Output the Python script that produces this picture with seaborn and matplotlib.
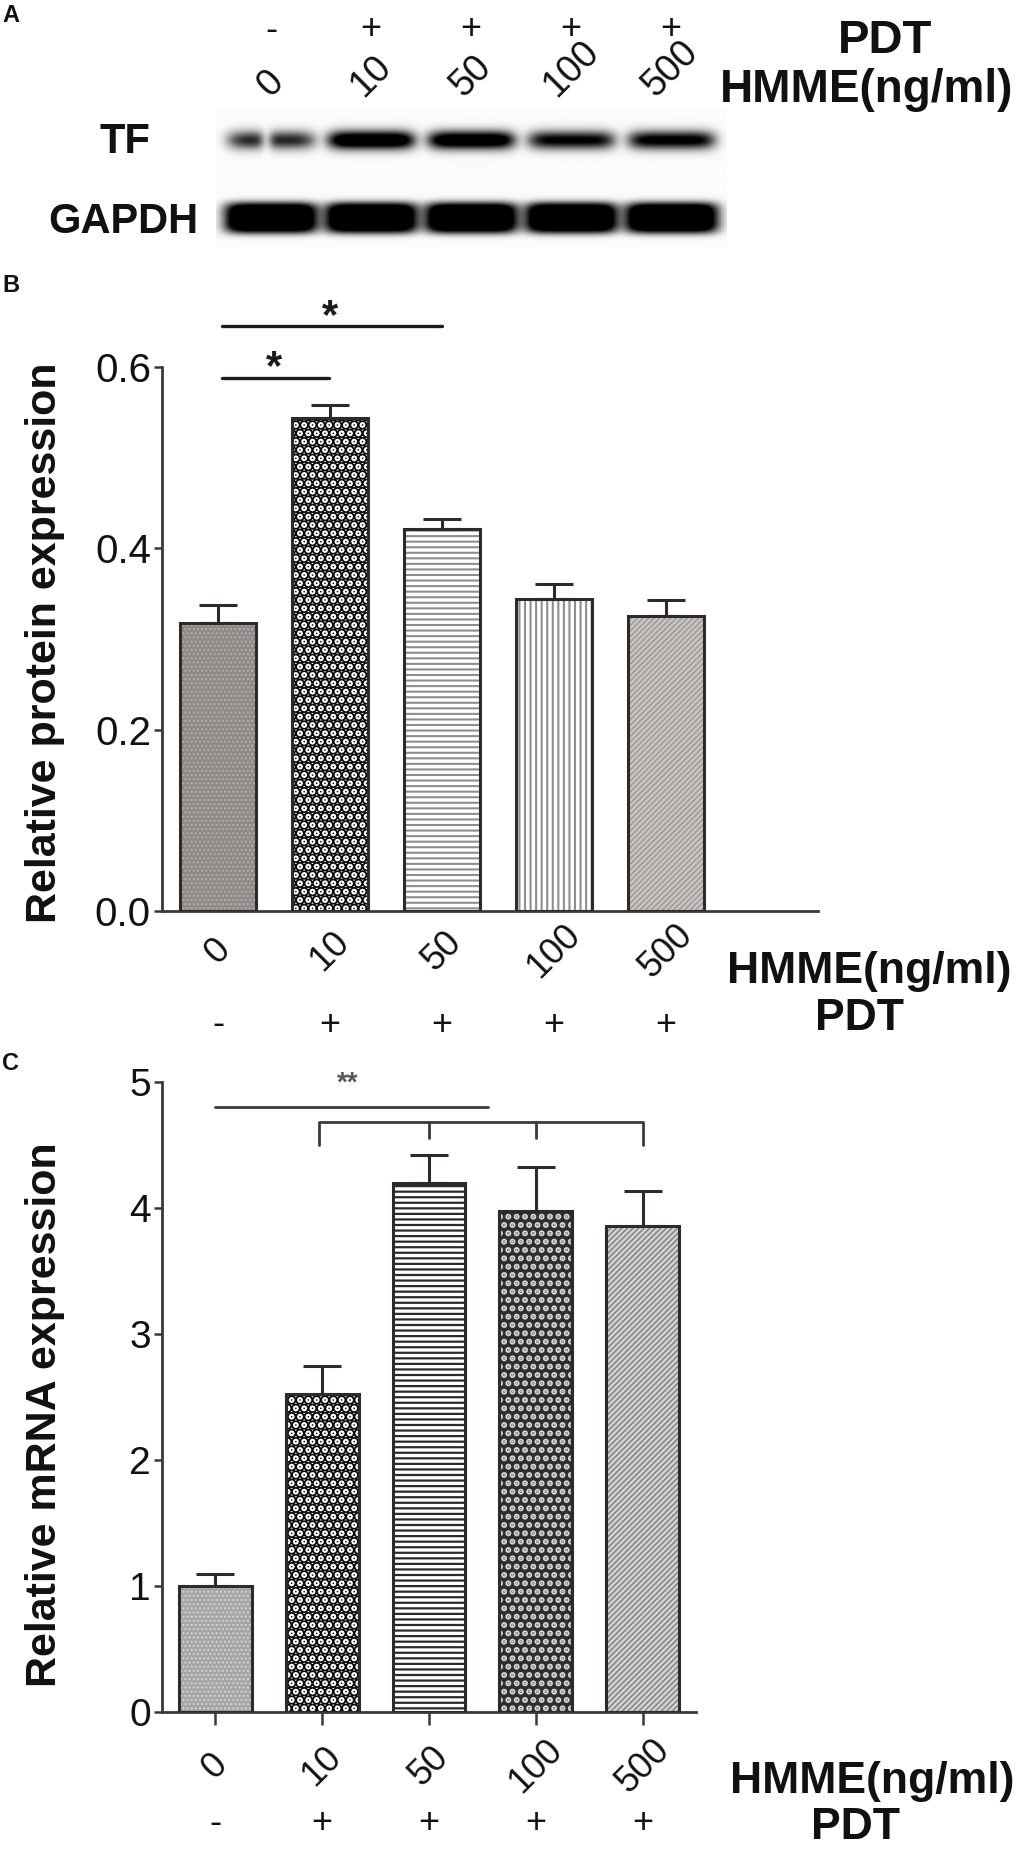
import numpy as np
import pandas as pd
import matplotlib
matplotlib.use("Agg")
import matplotlib.pyplot as plt
import matplotlib.transforms as mtrans
import seaborn as sns

# ---------------- data ----------------
doses = ["0", "10", "50", "100", "500"]
pdt = ["-", "+", "+", "+", "+"]
protein_mean = [0.318, 0.544, 0.421, 0.344, 0.325]
protein_sem = [0.019, 0.014, 0.011, 0.017, 0.018]
mrna_mean = [1.00, 2.52, 4.20, 3.98, 3.86]
mrna_sem = [0.095, 0.23, 0.22, 0.345, 0.275]
protein_yticks = [0.0, 0.2, 0.4, 0.6]
mrna_yticks = [0, 1, 2, 3, 4, 5]
tf_band = [0.55, 1.0, 0.95, 0.70, 0.75]
tf_split = [0.8, 0.0, 0.0, 0.0, 0.0]
gapdh_band = [1.0, 1.0, 1.0, 1.0, 1.0]

# ---------------- style ----------------
sns.set_theme(style="white")
plt.rcParams["font.family"] = ["Liberation Sans", "DejaVu Sans"]
OUT = "#2e2a29"
TXT = "#111111"

W, H = 1022, 1860
fig = plt.figure(figsize=(W / 100, H / 100), dpi=100)


def add_ax(l, t, r, b):
    return fig.add_axes([l / W, 1 - b / H, (r - l) / W, (b - t) / H])


def fy(py):
    return 1 - py / H


# ================= Panel A : blot =================
axA = add_ax(216, 110, 726, 248)
nx, ny = 700, 200
xs = np.linspace(-0.55, 4.55, nx)
ys = np.linspace(0, 1, ny)
X, Y = np.meshgrid(xs, ys)
dark = np.zeros_like(X)
for i in range(len(doses)):
    prof = np.exp(-(np.abs(X - i) / 0.42) ** 6) * np.exp(-(np.abs(Y - 0.217) / 0.06) ** 2)
    prof = prof * (1 - tf_split[i] * np.exp(-((X - i + 0.05) / 0.07) ** 2))
    dark += tf_band[i] * 1.5 * prof
    prof2 = np.exp(-(np.abs(X - i) / 0.45) ** 6) * np.exp(-(np.abs(Y - 0.783) / 0.105) ** 4)
    dark += gapdh_band[i] * 1.8 * prof2
dark = np.clip(dark, 0, 1)
bg = 0.965 + 0.03 * np.exp(-((Y - 0.5) / 0.9) ** 2) * 0 + 0.02
img = np.minimum(bg, 1.0) * (1 - dark ** 0.8)
axA.imshow(img, cmap="gray", vmin=0, vmax=1, extent=(-0.55, 4.55, 1, 0),
           aspect="auto", interpolation="bilinear")
axA.set_xlim(-0.55, 4.55)
axA.set_ylim(1, 0)
axA.axis("off")
trA = mtrans.blended_transform_factory(axA.transData, axA.transAxes)
for i, (d, s) in enumerate(zip(doses, pdt)):
    axA.text(i, (248 - 30) / 138, s, transform=trA, ha="center", va="center",
             fontsize=26, color=TXT, clip_on=False)
    axA.text(i, (248 - 104) / 138, d, transform=trA, ha="center", va="bottom",
             rotation=45, fontsize=27, color=TXT, clip_on=False)
fig.text(885 / W, fy(41), "PDT", ha="center", va="center", fontsize=34,
         fontweight="bold", color=TXT)
fig.text(867 / W, fy(90), "HMME(ng/ml)", ha="center", va="center", fontsize=33,
         fontweight="bold", color=TXT)
fig.text(125 / W, fy(142), "TF", ha="center", va="center", fontsize=30,
         fontweight="bold", color=TXT)
fig.text(123 / W, fy(222), "GAPDH", ha="center", va="center", fontsize=30,
         fontweight="bold", color=TXT)
fig.text(2 / W, fy(16), "A", ha="left", va="center", fontsize=17,
         fontweight="bold", color=TXT)


# ================= bar helper =================
def bar_panel(ax, means, sems, faces, hatches, hcolors, hlws, width):
    df = pd.DataFrame({"dose": doses, "value": means})
    sns.barplot(data=df, x="dose", y="value", hue="dose", order=doses,
                hue_order=doses, palette=faces, legend=False, width=width,
                errorbar=None, saturation=1, linewidth=0, ax=ax, zorder=2)
    patches = list(ax.patches)
    centers = []
    for p, h, hc, hl in zip(patches, hatches, hcolors, hlws):
        p.set_hatch(h)
        p.set_edgecolor(hc)
        p.set_linewidth(0)
        if hasattr(p, "set_hatch_linewidth"):
            p.set_hatch_linewidth(hl)
        centers.append(p.get_x() + p.get_width() / 2)
    ax.bar(centers, means, width=width, fill=False, edgecolor=OUT,
           linewidth=2.2, zorder=3)
    ax.errorbar(centers, means, yerr=[np.zeros(len(means)), sems], fmt="none",
                ecolor=OUT, elinewidth=2.2, capsize=14, capthick=2.2, zorder=4)
    for side in ["top", "right"]:
        ax.spines[side].set_visible(False)
    for side in ["left", "bottom"]:
        ax.spines[side].set_color("#3b3838")
        ax.spines[side].set_linewidth(2)
    ax.set_xlabel("")
    ax.set_ylabel("")
    return centers


# ================= Panel B =================
axB = add_ax(162, 367, 818, 911)
centersB = bar_panel(
    axB, protein_mean, protein_sem,
    faces=["#8f8987", "#ffffff", "#ffffff", "#ffffff", "#c9c5c3"],
    hatches=["....", "..", "---", "|||", "//////"],
    hcolors=["#b4aeac", "#0a0a0a", "#8e8e8e", "#8e8e8e", "#9c9694"],
    hlws=[1.0, 5.5, 1.5, 1.5, 1.0],
    width=0.67)
axB.set_xlim(-0.5, 5.357)
axB.set_ylim(0, 0.6)
axB.set_yticks(protein_yticks, labels=[f"{v:.1f}" for v in protein_yticks])
axB.set_xticks(range(len(doses)), labels=doses)
axB.set_xticks([3], minor=True)
axB.tick_params(axis="y", left=True, length=6, width=1.8, color="#3b3838",
                labelsize=29, labelcolor=TXT, pad=2)
axB.tick_params(axis="x", which="major", bottom=True, length=0, pad=29,
                labelsize=26, labelcolor=TXT)
axB.tick_params(axis="x", which="minor", bottom=True, length=8, width=1.8,
                color="#3b3838")
for lab in axB.get_xticklabels():
    lab.set_rotation(45)
    lab.set_ha("center")
    lab.set_va("center")
    lab.set_rotation_mode("anchor")
trB = mtrans.blended_transform_factory(axB.transData, axB.transAxes)
for i, s in enumerate(pdt):
    axB.text(i, (911 - 1025) / 544, s, transform=trB, ha="center", va="center",
             fontsize=26, color=TXT, clip_on=False)
# significance
axB.plot([0.036, 0.99], [0.588, 0.588], color="#1e1a1a", lw=2.4, clip_on=False)
axB.plot([0.036, 2.0], [0.645, 0.645], color="#1e1a1a", lw=2.4, clip_on=False)
axB.text(0.5, 0.587, "*", ha="center", va="baseline", fontsize=30,
         fontweight="bold", color="#1e1a1a", clip_on=False)
axB.text(1.0, 0.643, "*", ha="center", va="baseline", fontsize=30,
         fontweight="bold", color="#1e1a1a", clip_on=False)
fig.text(45 / W, fy(643), "Relative protein expression", rotation=90,
         ha="center", va="center", fontsize=31, fontweight="bold", color=TXT)
fig.text(869 / W, fy(971), "HMME(ng/ml)", ha="center", va="center",
         fontsize=32, fontweight="bold", color=TXT)
fig.text(860 / W, fy(1019), "PDT", ha="center", va="center", fontsize=32,
         fontweight="bold", color=TXT)
fig.text(2 / W, fy(286), "B", ha="left", va="center", fontsize=17,
         fontweight="bold", color=TXT)

# ================= Panel C =================
axC = add_ax(162, 1082, 696, 1712)
centersC = bar_panel(
    axC, mrna_mean, mrna_sem,
    faces=["#a5a5a5", "#ffffff", "#ffffff", "#2e2e2e", "#d2d2d2"],
    hatches=["....", "..", "---", "..", "//////"],
    hcolors=["#d4d4d4", "#0a0a0a", "#2a2a2a", "#d8d8d8", "#7e7e7e"],
    hlws=[1.0, 5.5, 1.6, 3.0, 1.0],
    width=0.68)
axC.set_xlim(-0.5, 4.5)
axC.set_ylim(0, 5)
axC.set_yticks(mrna_yticks, labels=[str(v) for v in mrna_yticks])
axC.set_xticks(range(len(doses)), labels=doses)
axC.tick_params(axis="y", left=True, length=6, width=1.8, color="#3b3838",
                labelsize=28, labelcolor=TXT, pad=2)
axC.tick_params(axis="x", bottom=True, length=9, width=1.8, color="#3b3838",
                pad=30, labelsize=26, labelcolor=TXT)
for lab in axC.get_xticklabels():
    lab.set_rotation(45)
    lab.set_ha("center")
    lab.set_va("center")
    lab.set_rotation_mode("anchor")
trC = mtrans.blended_transform_factory(axC.transData, axC.transAxes)
for i, s in enumerate(pdt):
    axC.text(i, (1712 - 1823) / 630, s, transform=trC, ha="center", va="center",
             fontsize=26, color=TXT, clip_on=False)
LC = "#3a3a3a"
axC.plot([0.0, 2.55], [4.80, 4.80], color=LC, lw=2, clip_on=False)
axC.plot([0.97, 0.97, 4.0, 4.0], [4.50, 4.68, 4.68, 4.50], color=LC, lw=2,
         clip_on=False)
axC.plot([2.0, 2.0], [4.68, 4.556], color=LC, lw=2, clip_on=False)
axC.plot([3.0, 3.0], [4.68, 4.556], color=LC, lw=2, clip_on=False)
axC.text(1.24, 4.93, "**", ha="center", va="baseline", fontsize=20,
         fontweight="bold", color="#555555", clip_on=False)
fig.text(45 / W, fy(1415), "Relative mRNA expression", rotation=90,
         ha="center", va="center", fontsize=31, fontweight="bold", color=TXT)
fig.text(872 / W, fy(1781), "HMME(ng/ml)", ha="center", va="center",
         fontsize=32, fontweight="bold", color=TXT)
fig.text(855 / W, fy(1827), "PDT", ha="center", va="center", fontsize=32,
         fontweight="bold", color=TXT)
fig.text(2 / W, fy(1064), "C", ha="left", va="center", fontsize=17,
         fontweight="bold", color=TXT)

fig.savefig("out.png", dpi=100, facecolor="white")
